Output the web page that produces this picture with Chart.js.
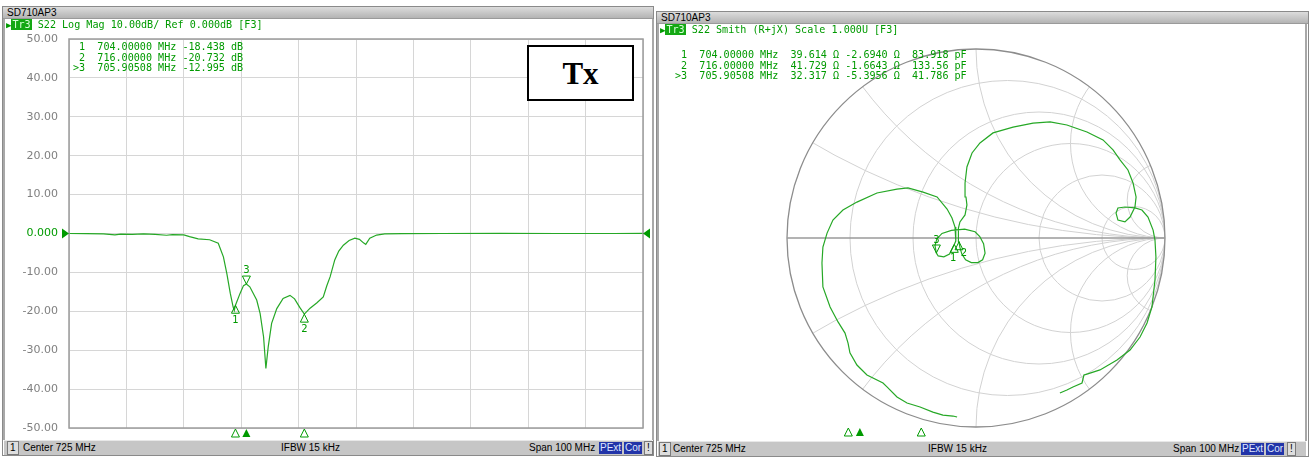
<!DOCTYPE html>
<html>
<head>
<meta charset="utf-8">
<script src="https://cdn.jsdelivr.net/npm/chart.js@4.4.1/dist/chart.umd.min.js"></script>
<style>
  body { margin: 0; width: 1311px; height: 457px; background: #fff; position: relative; overflow: hidden; font-family: 'Liberation Sans', sans-serif; }
  .frame { position: absolute; border: 1px solid #8a8a8a; background: #fff; }
  .vbar { position: absolute; background: #a8a8a8; width: 2px; z-index: 2; }
  .title { position: absolute; background: linear-gradient(#dcdcdc, #b4b4b4); border-bottom: 1px solid #9a9a9a; font-size: 10px; line-height: 11px; padding-left: 4px; color: #000; box-sizing: border-box; height: 12px; }
  .hdr, .readout { position: absolute; font-family: 'DejaVu Sans Mono', monospace; font-size: 10.1px; color: #009a00; white-space: pre; z-index: 3; }
  .readout { line-height: 10.5px; }
  .tr { background: #14a814; color: #d8ffd8; padding: 0 1px; }
  .arr { color: #009a00; font-size: 9px; }
  .status { position: absolute; height: 14px; background: #c6c6c6; border-top: 1px solid #e8e8e8; font-size: 10px; line-height: 14px; color: #000; z-index: 3; }
  .status span { position: absolute; top: 0; }
  .box1 { border: 1px solid #7a7a7a; background: #dedede; line-height: 12px; padding: 0 2px; }
  .blue { background: #2234a8; color: #dfe6ff; line-height: 12px; top: 1px !important; padding: 0 1px; }
  .txbox { position: absolute; left: 527px; top: 45px; width: 103px; height: 52px; border: 2px solid #000; background: #fff; font: bold 31px 'Liberation Serif', serif; text-align: center; line-height: 54px; z-index: 3; }
  canvas { position: absolute; top: 0; }
</style>
</head>
<body>
<div class="frame" style="left:2px;top:6px;width:650px;height:448px"></div>
<div class="frame" style="left:656px;top:11px;width:651px;height:444px"></div>
<div class="title" style="left:3px;top:7px;width:650px">SD710AP3</div>
<div class="title" style="left:657px;top:12px;width:651px">SD710AP3</div>

<canvas id="logmag" width="656" height="457" style="left:0"></canvas>
<canvas id="smith" width="655" height="457" style="left:656px"></canvas>

<div class="vbar" style="left:3px;top:19px;height:421px"></div>
<div class="vbar" style="left:652px;top:19px;height:421px"></div>
<div class="vbar" style="left:657px;top:24px;height:417px"></div>
<div class="vbar" style="left:1305px;top:24px;height:417px"></div>

<div class="hdr" style="left:6px;top:19px"><span class="arr">▶</span><span class="tr">Tr3</span> S22 Log Mag 10.00dB/ Ref 0.000dB [F3]</div>
<div class="hdr" style="left:660px;top:24px"><span class="arr">▶</span><span class="tr">Tr3</span> S22 Smith (R+jX) Scale 1.000U [F3]</div>
<div class="readout" id="readL" style="left:73px;top:42px"></div>
<div class="readout" id="readR" style="left:675px;top:50px"></div>
<div class="txbox">Tx</div>

<div class="status" style="left:4px;top:440px;width:648px">
  <span class="box1" style="left:3px">1</span>
  <span style="left:19px">Center 725 MHz</span>
  <span style="left:277px">IFBW 15 kHz</span>
  <span style="left:525px">Span 100 MHz</span>
  <span class="blue" style="left:595px">PExt</span>
  <span class="blue" style="left:620px">Cor</span>
  <span class="box1" style="left:640px">!</span>
</div>
<div class="status" style="left:658px;top:441px;width:648px">
  <span class="box1" style="left:1px">1</span>
  <span style="left:15px">Center 725 MHz</span>
  <span style="left:270px">IFBW 15 kHz</span>
  <span style="left:515px">Span 100 MHz</span>
  <span class="blue" style="left:583px">PExt</span>
  <span class="blue" style="left:608px">Cor</span>
  <span class="box1" style="left:629px">!</span>
</div>

<script>
// S22 log magnitude trace (MHz, dB)
const freqMHz = [675, 678, 681, 683, 684, 686, 688, 690, 692, 693, 695, 696, 697.5, 699.5, 701,
  701.9, 702.5, 703.1, 703.6, 703.8, 704, 704.8, 705.4, 705.9, 706.5, 707.7, 708.3, 708.9, 709.3,
  709.7, 710.3, 711.2, 712.3, 713.5, 714.3, 715.2, 716, 717, 718.2, 719.3, 719.9, 720.5, 721.3,
  722, 722.8, 723.8, 724.8, 725.6, 726.3, 726.7, 727.4, 728.6, 730, 733, 740, 750, 760, 770, 775];
const s22dB = [0, -0.05, -0.1, -0.35, -0.15, -0.2, -0.1, -0.2, -0.45, -0.3, -0.35, -0.8, -1.4, -1.6, -2.5,
  -6, -10.3, -15.4, -18.9, -19.8, -18.44, -15.4, -13.4, -12.995, -13.7, -17.1, -20.6, -26.6, -34.7,
  -29.2, -23.1, -19.3, -16.7, -15.9, -16.8, -19.0, -20.73, -19.2, -17.8, -16.3, -13.5, -11.1, -6.8,
  -4.5, -3.0, -1.8, -1.2, -1.5, -2.4, -2.8, -1.2, -0.4, -0.1, -0.05, 0, 0.05, 0, 0, 0.05];
const yTicks = [50, 40, 30, 20, 10, 0, -10, -20, -30, -40, -50];

// markers
const markerFreq = [704.0, 716.0, 705.90508];
const markerDb = [-18.438, -20.732, -12.995];
const markerR = [39.614, 41.729, 32.317];
const markerX = [-2.6940, -1.6643, -5.3956];
const markerPf = [83.918, 133.56, 41.786];
const activeMarker = 2;

// S22 smith trace, reflection coefficient (re, im)
const smithRe = [-0.10, -0.122, -0.175, -0.228, -0.296, -0.365, -0.418, -0.471, -0.492, -0.577, -0.630, -0.667,
  -0.677, -0.693, -0.730, -0.772, -0.810, -0.815, -0.810, -0.788, -0.757, -0.704, -0.630, -0.524, -0.418,
  -0.360, -0.280, -0.206, -0.153, -0.127, -0.111, -0.106, -0.108, -0.115, -0.14, -0.17, -0.20, -0.21,
  -0.217, -0.207, -0.18, -0.13, -0.06, -0.005, 0.02, 0.04, 0.048, 0.035, 0.01, -0.025, -0.055, -0.075,
  -0.085, -0.090, -0.093, -0.093, -0.085, -0.058, -0.048, -0.053, -0.058, -0.048, -0.021, 0.021, 0.090,
  0.196, 0.302, 0.392, 0.481, 0.587, 0.672, 0.725, 0.762, 0.804, 0.831, 0.847, 0.841, 0.815, 0.788,
  0.751, 0.741, 0.751, 0.788, 0.841, 0.878, 0.910, 0.937, 0.947, 0.952, 0.947, 0.931, 0.905, 0.868,
  0.815, 0.746, 0.656, 0.587, 0.571, 0.561, 0.513, 0.481, 0.444];
const smithIm = [-0.947, -0.942, -0.937, -0.921, -0.894, -0.873, -0.841, -0.788, -0.767, -0.725, -0.672, -0.608,
  -0.556, -0.503, -0.444, -0.365, -0.259, -0.132, -0.048, 0.026, 0.095, 0.148, 0.190, 0.238, 0.259,
  0.265, 0.243, 0.217, 0.153, 0.106, 0.058, 0.016, -0.016, -0.034, -0.085, -0.10, -0.095, -0.079,
  -0.04, -0.005, 0.024, 0.04, 0.047, 0.033, 0.008, -0.03, -0.08, -0.115, -0.13, -0.13, -0.115, -0.085,
  -0.05, -0.020, 0.016, 0.053, 0.085, 0.122, 0.175, 0.217, 0.291, 0.376, 0.450, 0.503, 0.556,
  0.587, 0.608, 0.614, 0.598, 0.561, 0.519, 0.466, 0.413, 0.360, 0.291, 0.217, 0.164, 0.111, 0.085,
  0.095, 0.132, 0.159, 0.164, 0.159, 0.148, 0.111, 0.042, -0.011, -0.101, -0.222, -0.365, -0.450, -0.524,
  -0.593, -0.646, -0.698, -0.720, -0.725, -0.767, -0.788, -0.804, -0.820];

// smith grid
const rCircles = [0.2, 0.5, 1, 2, 5];
const xArcs = [0.27, 0.5, 1, 2, 5];

const GREEN = '#009a00';
const TRACE = '#26a826';

// marker readouts
const pre = i => (i === activeMarker ? '>' : ' ') + (i + 1) + '  ' + markerFreq[i].toFixed(5) + ' MHz';
document.getElementById('readL').textContent = markerFreq.map((f, i) =>
  pre(i) + ' ' + markerDb[i].toFixed(3) + ' dB').join('\n');
document.getElementById('readR').textContent = markerFreq.map((f, i) =>
  pre(i) + '  ' + markerR[i].toPrecision(5) + ' \u03a9 ' + markerX[i].toPrecision(5) + ' \u03a9  ' +
  markerPf[i].toPrecision(5) + ' pF').join('\n');

// gamma of marker impedance, Z0 = 50
function gamma(R, X) {
  const a = R / 50 - 1, b = X / 50, c = R / 50 + 1, d = X / 50;
  const den = c * c + d * d;
  return { x: (a * c + b * d) / den, y: (b * c - a * d) / den };
}

function tri(ctx, px, py, up, filled) {
  // tip at (px, py); up = triangle sits below tip
  const s = up ? 1 : -1;
  ctx.beginPath();
  ctx.moveTo(px, py);
  ctx.lineTo(px - 4, py + s * 8);
  ctx.lineTo(px + 4, py + s * 8);
  ctx.closePath();
  if (filled) ctx.fill(); else ctx.stroke();
}

Chart.defaults.font.family = 'DejaVu Sans';

const logDecor = {
  id: 'logDecor',
  afterDatasetsDraw(chart) {
    const { ctx, chartArea: a, scales: { x, y } } = chart;
    ctx.save();
    ctx.strokeStyle = '#9c9c9c';
    ctx.lineWidth = 1.5;
    ctx.strokeRect(a.left, a.top, a.right - a.left, a.bottom - a.top);
    // reference level arrows
    const y0 = y.getPixelForValue(0);
    ctx.fillStyle = GREEN;
    ctx.beginPath(); ctx.moveTo(a.left - 7, y0 - 5); ctx.lineTo(a.left, y0); ctx.lineTo(a.left - 7, y0 + 5); ctx.fill();
    ctx.beginPath(); ctx.moveTo(a.right + 7, y0 - 5); ctx.lineTo(a.right, y0); ctx.lineTo(a.right + 7, y0 + 5); ctx.fill();
    // markers
    ctx.strokeStyle = GREEN;
    ctx.lineWidth = 1;
    ctx.font = '10px DejaVu Sans';
    ctx.textAlign = 'center';
    ctx.textBaseline = 'middle';
    markerFreq.forEach((f, i) => {
      const px = x.getPixelForValue(f), py = y.getPixelForValue(markerDb[i]);
      const act = i === activeMarker;
      tri(ctx, px, py, !act, false);
      ctx.fillText(String(i + 1), px, act ? py - 14 : py + 15);
      tri(ctx, px, a.bottom + 1, true, act);
    });
    ctx.restore();
  }
};

new Chart(document.getElementById('logmag'), {
  type: 'line',
  data: {
    datasets: [{
      data: freqMHz.map((f, i) => ({ x: f, y: s22dB[i] })),
      borderColor: TRACE,
      borderWidth: 1.2,
      pointRadius: 0,
      tension: 0
    }]
  },
  options: {
    responsive: false,
    animation: false,
    devicePixelRatio: 1,
    layout: { padding: { left: 0, right: 13, top: 39, bottom: 29 } },
    plugins: { legend: { display: false }, tooltip: { enabled: false } },
    scales: {
      x: {
        type: 'linear', min: 675, max: 775,
        ticks: { display: false, stepSize: 10 },
        grid: { color: '#d6d6d6', drawTicks: false },
        border: { display: false },
        afterFit: s => { s.height = 0; }
      },
      y: {
        min: -50, max: 50,
        afterBuildTicks: s => { s.ticks = yTicks.map(v => ({ value: v })); },
        ticks: {
          color: c => (c.tick && c.tick.value === 0 ? GREEN : '#808080'),
          font: { size: 11 },
          padding: 11,
          callback: v => (v === 0 ? '0.000' : v.toFixed(2))
        },
        grid: { color: '#d6d6d6', drawTicks: false },
        border: { display: false },
        afterFit: s => { s.width = 69; }
      }
    }
  },
  plugins: [logDecor]
});

const smithDecor = {
  id: 'smithDecor',
  beforeDatasetsDraw(chart) {
    const { ctx, scales: { x, y } } = chart;
    const cx = x.getPixelForValue(0), cy = y.getPixelForValue(0);
    const R = x.getPixelForValue(1) - cx;
    ctx.save();
    ctx.beginPath(); ctx.arc(cx, cy, R, 0, 2 * Math.PI); ctx.clip();
    ctx.strokeStyle = '#d2d2d2';
    ctx.lineWidth = 1;
    rCircles.forEach(r => {
      ctx.beginPath();
      ctx.arc(cx + R * r / (1 + r), cy, R / (1 + r), 0, 2 * Math.PI);
      ctx.stroke();
    });
    xArcs.forEach(v => [v, -v].forEach(s => {
      ctx.beginPath();
      ctx.arc(cx + R, cy - R / s, R / Math.abs(s), 0, 2 * Math.PI);
      ctx.stroke();
    }));
    ctx.restore();
    ctx.save();
    ctx.strokeStyle = '#8c8c8c';
    ctx.lineWidth = 1.3;
    ctx.beginPath(); ctx.arc(cx, cy, R, 0, 2 * Math.PI); ctx.stroke();
    ctx.strokeStyle = '#9a9a9a';
    ctx.lineWidth = 1.6;
    ctx.beginPath(); ctx.moveTo(cx - R, cy); ctx.lineTo(cx + R, cy); ctx.stroke();
    ctx.restore();
  },
  afterDatasetsDraw(chart) {
    const { ctx, scales: { x, y } } = chart;
    ctx.save();
    ctx.strokeStyle = GREEN;
    ctx.fillStyle = GREEN;
    ctx.lineWidth = 1;
    ctx.font = '10px DejaVu Sans';
    ctx.textAlign = 'center';
    ctx.textBaseline = 'middle';
    // frequency positions along the bottom of the panel
    const fx = f => 16 + (f - 675) * 6.08;
    markerFreq.forEach((f, i) => {
      const g = gamma(markerR[i], markerX[i]);
      const px = x.getPixelForValue(g.x), py = y.getPixelForValue(g.y);
      const act = i === activeMarker;
      tri(ctx, px, py, !act, false);
      if (act) ctx.fillText('3', px, py - 13);
      else if (i === 0) ctx.fillText('1', px - 1, py + 14);
      else ctx.fillText('2', px + 5, py + 12);
      tri(ctx, fx(f), 428, true, act);
    });
    ctx.restore();
  }
};

new Chart(document.getElementById('smith'), {
  type: 'scatter',
  data: {
    datasets: [{
      data: smithRe.map((v, i) => ({ x: v, y: smithIm[i] })),
      showLine: true,
      borderColor: TRACE,
      borderWidth: 1.2,
      pointRadius: 0,
      tension: 0
    }]
  },
  options: {
    responsive: false,
    animation: false,
    devicePixelRatio: 1,
    layout: { padding: { left: 131, right: 146, top: 49, bottom: 30 } },
    plugins: { legend: { display: false }, tooltip: { enabled: false } },
    scales: {
      x: { type: 'linear', min: -1, max: 1, display: false },
      y: { type: 'linear', min: -1, max: 1, display: false }
    }
  },
  plugins: [smithDecor]
});
</script>
</body>
</html>
